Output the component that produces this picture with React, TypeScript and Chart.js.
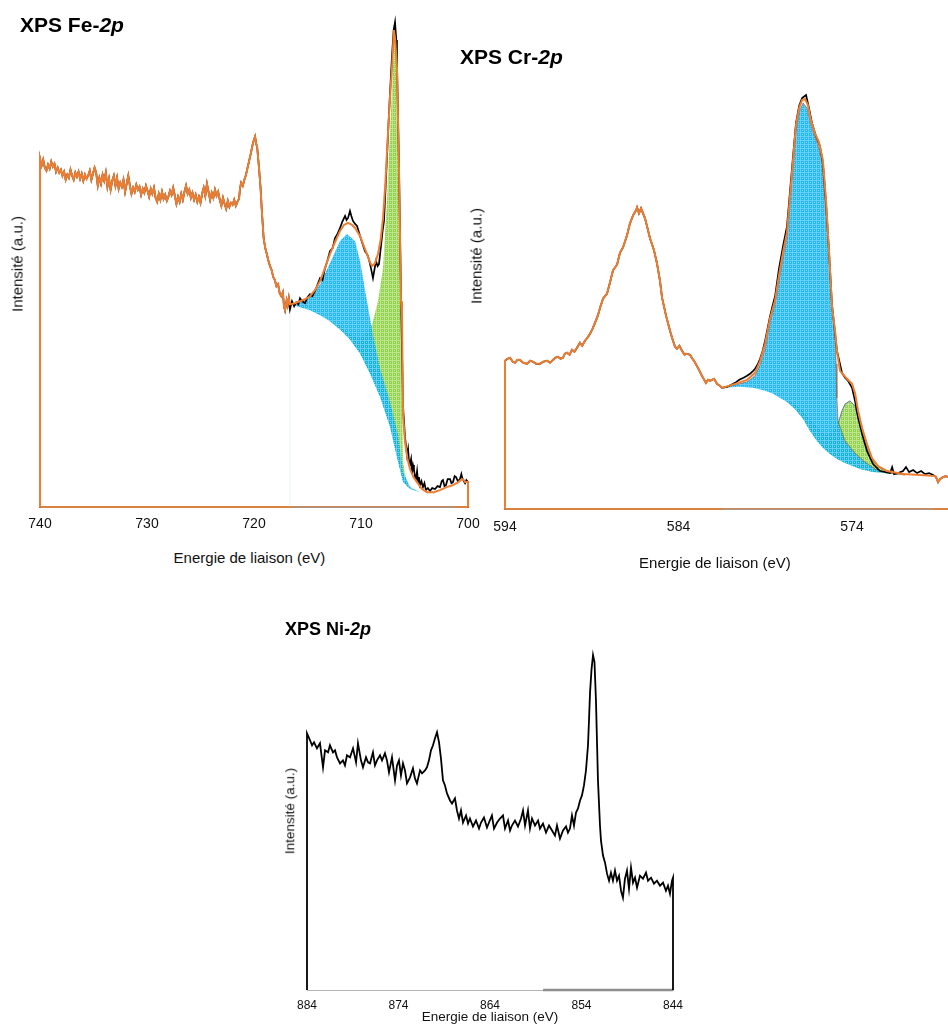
import React, { useEffect, useRef } from 'react';
import { Chart, registerables } from 'chart.js';
Chart.register(...registerables);

type P = [number, number];

const FONT = '"Liberation Sans", Arial, Helvetica, sans-serif';
const ORANGE = '#ED7D31';
const AXIS_ORANGE = '#DB8240';

// ---------- tick labels ----------
const feTicks = [740, 730, 720, 710, 700];
const crTicks = [594, 584, 574];
const niTicks = [884, 874, 864, 854, 844];

// ---------- XPS Fe-2p : [binding energy eV, intensity a.u.] ----------
const feRaw: P[] = [
  [740, 0], [740, 347], [739.85, 340], [739.7, 346], [739.55, 338], [739.4, 335], [739.25, 341], [739.1, 337],
  [738.95, 344], [738.8, 339], [738.65, 342], [738.5, 334], [738.35, 338], [738.2, 333], [738.05, 336], [737.9, 330],
  [737.75, 334], [737.6, 326], [737.45, 331], [737.3, 328], [737.15, 336], [737, 330], [736.85, 326], [736.7, 333],
  [736.55, 329], [736.4, 334], [736.25, 327], [736.1, 332], [735.95, 325], [735.8, 331], [735.65, 327], [735.5, 330],
  [735.35, 335], [735.2, 326], [735.05, 332], [734.9, 338], [734.75, 333], [734.6, 320], [734.45, 328], [734.3, 322],
  [734.15, 331], [734, 325], [733.85, 333], [733.7, 319], [733.55, 327], [733.4, 316], [733.25, 325], [733.1, 330],
  [732.95, 320], [732.8, 328], [732.65, 317], [732.5, 323], [732.35, 319], [732.2, 326], [732.05, 314], [731.9, 322],
  [731.75, 330], [731.6, 320], [731.45, 312], [731.3, 318], [731.15, 314], [731, 321], [730.85, 316], [730.7, 319],
  [730.55, 311], [730.4, 317], [730.25, 313], [730.1, 320], [729.95, 315], [729.8, 309], [729.65, 317], [729.5, 312],
  [729.35, 318], [729.2, 308], [729.05, 304], [728.9, 312], [728.75, 306], [728.6, 314], [728.45, 307], [728.3, 311],
  [728.15, 305], [728, 309], [727.85, 315], [727.7, 311], [727.55, 318], [727.4, 310], [727.25, 302], [727.1, 309],
  [726.95, 304], [726.8, 312], [726.65, 306], [726.5, 314], [726.35, 320], [726.2, 312], [726.05, 316], [725.9, 308],
  [725.75, 313], [725.6, 306], [725.45, 311], [725.3, 304], [725.15, 309], [725, 303], [724.85, 312], [724.7, 318],
  [724.55, 310], [724.4, 322], [724.25, 314], [724.1, 306], [723.95, 313], [723.8, 308], [723.65, 316], [723.5, 310],
  [723.35, 314], [723.2, 306], [723.05, 300], [722.9, 308], [722.75, 302], [722.6, 297], [722.45, 305], [722.3, 299],
  [722.15, 303], [722, 301], [721.85, 306], [721.7, 300], [721.55, 304], [721.4, 307], [721.3, 318], [721.2, 323],
  [721.05, 320], [720.9, 326], [720.75, 331], [720.6, 338], [720.45, 345], [720.3, 352], [720.15, 360], [720, 366],
  [719.9, 369], [719.8, 362], [719.7, 358], [719.55, 340], [719.4, 320], [719.25, 292], [719.1, 268], [718.95, 258],
  [718.8, 252], [718.65, 245], [718.5, 240], [718.35, 236], [718.2, 229], [718.05, 226], [717.9, 220], [717.75, 222],
  [717.6, 213], [717.45, 210], [717.3, 214], [717.2, 200], [717.1, 196], [716.95, 206], [716.85, 201], [716.75, 208],
  [716.64, 197], [716.45, 205], [716.25, 200], [716.05, 204], [715.85, 202], [715.7, 208], [715.5, 205], [715.23, 203],
  [715, 209], [714.77, 212], [714.55, 210], [714.3, 215], [714.05, 222], [713.83, 228], [713.6, 226], [713.36, 238],
  [713.15, 245], [712.9, 255], [712.65, 258], [712.43, 268], [712.2, 272], [711.96, 278], [711.75, 284], [711.49, 290],
  [711.35, 286], [711.21, 288], [711.03, 295], [710.9, 290], [710.75, 285], [710.55, 282], [710.37, 280], [710.2, 274],
  [710.09, 270], [709.85, 262], [709.63, 255], [709.45, 252], [709.35, 250], [709.2, 244], [709.07, 238], [708.88, 228],
  [708.75, 236], [708.6, 245], [708.45, 240], [708.32, 242], [708.13, 260], [707.98, 275], [707.85, 285], [707.65, 330],
  [707.48, 370], [707.3, 410], [707.1, 450], [706.95, 475], [706.82, 483], [706.7, 465], [706.64, 445], [706.45, 340],
  [706.26, 210], [706.07, 100], [705.89, 70], [705.7, 52], [705.6, 58], [705.51, 45], [705.42, 43], [705.32, 48],
  [705.23, 33], [705.14, 42], [705.05, 38], [704.95, 30], [704.86, 28], [704.76, 36], [704.67, 25], [704.58, 30],
  [704.49, 22], [704.35, 26], [704.21, 20], [704.07, 24], [703.93, 17], [703.75, 19], [703.55, 16], [703.35, 19],
  [703.08, 18], [702.85, 21], [702.62, 20], [702.45, 26], [702.34, 27], [702.2, 21], [702.06, 22], [701.9, 28],
  [701.68, 28], [701.55, 24], [701.4, 25], [701.25, 31], [701.12, 30], [700.95, 26], [700.75, 28], [700.62, 33],
  [700.56, 30], [700.45, 27], [700.28, 24], [700.15, 27], [700, 25], [700, 0],
];
const feFit: P[] = [
  [716.64, 202], [716.17, 203], [715.7, 205], [715.24, 207], [714.77, 210], [714.3, 216], [713.83, 225], [713.37, 238],
  [712.9, 252], [712.43, 264], [711.96, 275], [711.59, 281], [711.21, 283], [710.84, 281], [710.56, 278], [710.09, 270],
  [709.77, 261], [709.44, 252], [709.16, 244], [708.97, 240], [708.69, 243], [708.41, 252], [708.17, 266], [707.94, 288],
  [707.71, 325], [707.48, 372], [707.29, 408], [707.1, 438], [706.92, 475], [706.8, 465], [706.64, 438], [706.45, 338],
  [706.26, 205], [706.17, 192], [706.07, 92], [705.89, 65], [705.65, 48], [705.42, 38], [705.1, 30], [704.77, 25],
  [704.3, 18], [703.83, 15], [703.2, 15], [702.62, 17], [702, 20], [701.4, 22], [700.9, 25], [700.56, 28],
  [700.4, 27], [700.28, 25], [700, 25], [700, 0],
];
const feBg: P[] = [
  [716.64, 202], [715.7, 199], [714.77, 196], [713.83, 191], [712.9, 185], [711.96, 177], [711.03, 167], [710.09, 153],
  [709.16, 133], [708.22, 110], [707.29, 80], [706.64, 50], [706.07, 25], [705.42, 18], [704.49, 15], [703.55, 14],
];
const feBlue: P[] = [
  [716.64, 202], [715.7, 205], [714.77, 210], [713.83, 222], [712.9, 243], [711.96, 265], [711.31, 272], [710.56, 265],
  [710.09, 245], [709.44, 205], [708.88, 172], [708.22, 138], [707.29, 105], [706.54, 72], [706.07, 35],
  [705.42, 20], [704.49, 15], [703.55, 14],
];
const feGreen: P[] = [
  [712.9, 185], [711.96, 180], [711.03, 172], [710.09, 168], [709.35, 175], [708.97, 182], [708.41, 205], [707.94, 238],
  [707.57, 305], [707.29, 372], [707.01, 438], [706.82, 472], [706.64, 465], [706.54, 405], [706.36, 305], [706.26, 205],
  [706.17, 105], [706.07, 45], [705.79, 27], [705.42, 18], [704.49, 15], [703.55, 14],
];
const feBase: P[] = [[716.45, 0], [701.03, 0]];
const feEdge: P[] = [[716.64, 0], [716.64, 197]];

// ---------- XPS Cr-2p ----------
const crRaw: P[] = [
  [594, 0], [594, 148], [593.85, 150], [593.71, 151], [593.55, 147], [593.42, 146], [593.28, 149], [593.14, 149],
  [592.95, 146], [592.73, 145], [592.55, 148], [592.39, 147], [592.2, 145], [591.98, 145], [591.8, 147], [591.58, 148],
  [591.4, 146], [591.23, 149], [591.1, 151], [590.95, 152], [590.8, 150], [590.66, 151], [590.55, 155], [590.43, 156],
  [590.28, 154], [590.14, 159], [590, 157], [589.85, 161], [589.75, 164], [589.68, 166], [589.55, 163], [589.39, 168],
  [589.25, 171], [589.1, 175], [588.95, 180], [588.81, 186], [588.65, 193], [588.52, 201], [588.35, 210], [588.12, 215],
  [587.95, 226], [587.78, 238], [587.54, 244], [587.37, 256], [587.2, 261], [586.97, 273], [586.8, 285], [586.62, 293],
  [586.45, 298], [586.39, 301], [586.28, 295], [586.16, 300], [585.93, 290], [585.64, 270], [585.41, 258], [585.24, 245],
  [585.07, 228], [584.95, 211], [584.72, 193], [584.49, 178], [584.32, 168], [584.2, 162], [584.09, 160], [583.95, 163],
  [583.8, 158], [583.65, 154], [583.57, 155], [583.34, 154], [583.2, 150], [583.11, 148], [582.88, 141], [582.65, 133],
  [582.42, 126], [582.3, 129], [582.18, 128], [581.95, 130], [581.78, 125], [581.61, 123], [581.49, 121], [581.2, 122],
  [580.95, 124], [580.74, 126], [580.5, 129], [580.25, 131], [580.05, 133], [579.88, 135], [579.7, 138], [579.59, 140],
  [579.45, 144], [579.3, 150], [579.15, 158], [579.01, 168], [578.87, 180], [578.73, 192], [578.58, 203], [578.44, 212],
  [578.21, 240], [577.98, 262], [577.75, 282], [577.57, 318], [577.4, 352], [577.23, 385], [577.05, 402], [576.88, 410],
  [576.65, 413], [576.48, 400], [576.31, 385], [576.08, 372], [575.85, 362], [575.68, 345], [575.5, 305], [575.33, 258],
  [575.16, 205], [574.98, 175], [574.87, 158], [574.58, 136], [574.4, 131], [574.23, 128], [574, 121], [573.83, 108],
  [573.65, 91], [573.42, 75], [573.14, 58], [572.79, 45], [572.39, 38], [571.81, 36], [571.69, 42], [571.58, 35],
  [571.35, 36], [571.06, 38], [570.89, 42], [570.71, 37], [570.48, 39], [570.25, 36], [570.02, 38], [569.79, 35],
  [569.56, 36], [569.33, 34], [569.16, 32], [569.04, 27], [568.93, 30], [568.76, 32], [568.59, 33], [568.47, 32],
];
const crFit: P[] = [
  [581.49, 121], [580.74, 125], [580.05, 129], [579.59, 136], [579.3, 148], [579.01, 165], [578.73, 190], [578.44, 208],
  [578.21, 233], [577.98, 256], [577.75, 276], [577.57, 313], [577.4, 348], [577.23, 383], [577.05, 400], [576.88, 408],
  [576.71, 409], [576.54, 403], [576.37, 388], [576.14, 375], [575.91, 366], [575.68, 348], [575.5, 308], [575.33, 258],
  [575.15, 201], [574.98, 178], [574.87, 158], [574.69, 138], [574.29, 130], [574, 125], [573.83, 116], [573.65, 98],
  [573.42, 81], [573.14, 65], [572.85, 51], [572.5, 43], [571.98, 38], [571.06, 35], [570.08, 34], [569.22, 33],
];
const crBg: P[] = [
  [581.49, 121], [580.45, 122], [579.71, 121], [579.01, 118], [578.55, 115], [578.15, 111], [577.75, 107], [577.29, 100],
  [576.82, 90], [576.42, 78], [576.02, 68], [575.67, 61], [575.27, 55], [574.86, 50], [574.4, 46], [573.54, 40],
  [572.79, 37], [571.64, 35], [569.22, 33],
];
const crBlue: P[] = [
  [581.49, 121], [580.74, 124], [580.05, 127], [579.59, 133], [579.3, 144], [579.01, 160], [578.73, 186], [578.44, 205],
  [578.21, 228], [577.98, 251], [577.75, 271], [577.57, 308], [577.4, 343], [577.23, 378], [577.05, 396], [576.82, 405],
  [576.59, 400], [576.37, 383], [576.14, 371], [575.91, 360], [575.74, 348], [575.56, 308], [575.39, 271], [575.16, 201],
  [574.98, 178], [574.92, 145], [574.87, 111], [574.81, 88], [574.4, 68], [573.83, 56], [573.25, 47], [572.67, 40],
  [571.81, 36], [570.95, 34],
];
const crGreen: P[] = [
  [577.75, 108], [577.29, 104], [576.82, 97], [576.42, 88], [576.02, 81],
  [575.67, 75], [575.44, 73], [575.1, 76], [574.81, 85], [574.58, 98], [574.4, 105], [574.12, 108], [573.83, 103],
  [573.65, 91], [573.42, 78], [573.14, 61], [572.79, 48], [572.39, 41], [571.81, 37], [570.95, 35],
];
const crBase: P[] = [[581.5, 0], [569.3, 0]];

// ---------- XPS Ni-2p ----------
const niRaw: P[] = [
  [884, 0], [884, 256], [883.67, 249], [883.45, 244], [883.23, 247], [882.91, 241], [882.58, 246], [882.25, 222],
  [882.03, 239], [881.7, 237], [881.49, 244], [881.16, 237], [880.94, 239], [880.72, 232], [880.39, 226], [880.07, 229],
  [879.85, 224], [879.63, 234], [879.3, 232], [878.97, 241], [878.64, 227], [878.43, 246], [878.1, 229], [877.88, 222],
  [877.55, 232], [877.33, 227], [877.11, 226], [876.79, 237], [876.57, 224], [876.35, 229], [876.02, 234], [875.8, 229],
  [875.48, 236], [875.26, 229], [875.04, 217], [874.93, 222], [874.71, 232], [874.38, 209], [874.16, 224], [873.95, 229],
  [873.73, 214], [873.51, 226], [873.29, 219], [873.07, 206], [872.74, 212], [872.42, 221], [872.2, 211], [871.98, 206],
  [871.65, 219], [871.43, 216], [871.1, 219], [870.89, 222], [870.67, 229], [870.45, 239], [870.23, 244], [870.01, 251],
  [869.79, 257], [869.57, 247], [869.36, 231], [869.14, 209], [868.92, 204], [868.7, 196], [868.37, 189], [868.15, 186],
  [867.83, 191], [867.61, 179], [867.39, 171], [867.17, 179], [866.95, 167], [866.62, 174], [866.4, 166], [866.19, 171],
  [865.86, 163], [865.53, 169], [865.2, 161], [864.98, 167], [864.66, 172], [864.33, 162], [864.11, 167], [863.79, 174],
  [863.56, 161], [863.23, 167], [862.91, 171], [862.58, 174], [862.36, 161], [862.03, 169], [861.81, 159], [861.6, 164],
  [861.27, 169], [860.94, 163], [860.61, 171], [860.39, 179], [860.17, 164], [859.85, 179], [859.63, 161], [859.41, 171],
  [859.08, 164], [858.75, 169], [858.54, 161], [858.21, 166], [857.88, 157], [857.55, 164], [857.22, 159], [856.9, 154],
  [856.68, 164], [856.35, 151], [856.02, 159], [855.69, 163], [855.48, 157], [855.26, 161], [855.04, 174], [854.82, 164],
  [854.6, 177], [854.38, 181], [854.16, 189], [853.95, 194], [853.73, 204], [853.51, 219], [853.29, 244], [853.18, 269],
  [853.07, 296], [852.91, 319], [852.74, 334], [852.58, 327], [852.42, 289], [852.31, 249], [852.2, 209], [851.98, 164],
  [851.87, 149], [851.65, 134], [851.43, 127], [851.21, 116], [850.99, 109], [850.78, 117], [850.56, 109], [850.34, 119],
  [850.12, 109], [849.9, 114], [849.68, 99], [849.47, 92], [849.25, 111], [849.03, 119], [848.81, 101], [848.59, 122],
  [848.37, 107], [848.15, 112], [847.93, 102], [847.61, 114], [847.28, 111], [846.95, 117], [846.73, 109], [846.4, 112],
  [846.08, 106], [845.75, 109], [845.42, 104], [845.09, 107], [844.77, 99], [844.55, 104], [844.33, 96], [844.11, 109],
  [844, 112], [844, 0],
];
const niBase: P[] = [[858.2, 0], [844, 0]];

// ---------- helpers ----------
const toXY = (a: P[]) => a.map(([x, y]) => ({ x, y }));

function hatch(ctx: CanvasRenderingContext2D, base: string, line: string, dot: string) {
  const c = document.createElement('canvas');
  c.width = 4;
  c.height = 4;
  const g = c.getContext('2d')!;
  g.fillStyle = base;
  g.fillRect(0, 0, 4, 4);
  g.fillStyle = line;
  g.fillRect(0, 0, 4, 1);
  g.fillRect(0, 0, 1, 4);
  g.fillStyle = dot;
  g.fillRect(2, 2, 1, 1);
  return ctx.createPattern(c, 'repeat')!;
}

const line = (data: P[], color: string, width: number, order: number, extra: any = {}) => ({
  data: toXY(data),
  borderColor: color,
  borderWidth: width,
  pointRadius: 0,
  tension: 0,
  fill: false,
  clip: 4,
  order,
  ...extra,
});

const blueFill = (ctx: CanvasRenderingContext2D) =>
  hatch(ctx, 'rgba(0,172,238,0.86)', 'rgba(110,210,250,0.88)', 'rgba(160,228,252,0.85)');
const greenFill = (ctx: CanvasRenderingContext2D) =>
  hatch(ctx, 'rgb(146,208,80)', 'rgb(190,230,140)', 'rgb(205,238,165)');

interface ChartProps {
  left: number; top: number; width: number; height: number;
  pad: { left: number; right: number; top: number; bottom: number };
  xmin: number; xmax: number; ymax: number; ticks: number[];
  tickSize: number; tickPad: number; tickLH: number;
  axisColor: string; axisWidth: number;
  build: (ctx: CanvasRenderingContext2D) => any[];
}

function XpsChart(p: ChartProps) {
  const ref = useRef<HTMLCanvasElement>(null);
  useEffect(() => {
    const canvas = ref.current!;
    const ctx = canvas.getContext('2d')!;
    const chart = new Chart(ctx, {
      type: 'line',
      data: { datasets: p.build(ctx) },
      options: {
        responsive: false,
        animation: false,
        events: [],
        layout: { padding: p.pad },
        plugins: { legend: { display: false }, tooltip: { enabled: false }, title: { display: false } },
        scales: {
          x: {
            type: 'linear',
            reverse: true,
            min: p.xmin,
            max: p.xmax,
            afterBuildTicks: (ax: any) => {
              ax.ticks = p.ticks.map((v) => ({ value: v }));
            },
            grid: { display: false, drawTicks: false },
            border: { display: true, color: p.axisColor, width: p.axisWidth },
            ticks: {
              autoSkip: false,
              maxRotation: 0,
              padding: p.tickPad,
              color: '#111',
              font: { family: FONT, size: p.tickSize, lineHeight: p.tickLH },
            },
          },
          y: { display: false, min: 0, max: p.ymax },
        },
      } as any,
    });
    return () => chart.destroy();
  }, []);
  return (
    <canvas
      ref={ref}
      width={p.width}
      height={p.height}
      style={{ position: 'absolute', left: p.left, top: p.top, width: p.width, height: p.height }}
    />
  );
}

const txt = (x: number, y: number, size: number, content: React.ReactNode, rotate = false) => (
  <div
    style={{
      position: 'absolute',
      left: x,
      top: y,
      transform: `translate(-50%, -50%)${rotate ? ' rotate(-90deg)' : ''}`,
      fontFamily: FONT,
      fontSize: size,
      lineHeight: 1,
      whiteSpace: 'nowrap',
      color: '#111',
    }}
  >
    {content}
  </div>
);

const title = (x: number, y: number, size: number, el: string) => (
  <div
    style={{
      position: 'absolute',
      left: x,
      top: y,
      fontFamily: FONT,
      fontSize: size,
      lineHeight: 1,
      fontWeight: 700,
      whiteSpace: 'nowrap',
      color: '#000',
    }}
  >
    XPS {el}-<i>2p</i>
  </div>
);

export default function App() {
  const feOrange = feRaw.filter(([e]) => e > 716.65).concat(feFit);
  const crOrange = crRaw
    .filter(([e]) => e > 581.5)
    .concat(crFit)
    .concat(crRaw.filter(([e]) => e < 569.2));

  return (
    <div style={{ position: 'fixed', inset: 0, overflow: 'hidden', background: '#fff' }}>
      <XpsChart
        left={0} top={0} width={490} height={542}
        pad={{ left: 40, right: 22, top: 18, bottom: 0 }}
        xmin={700} xmax={740} ymax={487} ticks={feTicks}
        tickSize={14} tickPad={9} tickLH={1.2}
        axisColor={AXIS_ORANGE} axisWidth={2}
        build={(ctx) => [
          line(feOrange, ORANGE, 2, 0),
          line(feRaw, '#000', 1.7, 1),
          line(feBase, '#9a9a9a', 1, 2),
          line(feBlue, 'rgba(0,0,0,0)', 0, 3, { fill: { target: 5 }, backgroundColor: blueFill(ctx), clip: undefined }),
          line(feGreen, 'rgba(0,0,0,0)', 0, 4, { fill: { target: 5 }, backgroundColor: greenFill(ctx), clip: undefined }),
          line(feBg, 'rgba(0,0,0,0)', 0, 5),
          line(feEdge, 'rgba(190,224,230,0.35)', 1, 6),
        ]}
      />
      <XpsChart
        left={480} top={0} width={468} height={546}
        pad={{ left: 25, right: 0, top: 90, bottom: 0 }}
        xmin={568.47} xmax={594} ymax={418} ticks={crTicks}
        tickSize={14} tickPad={10} tickLH={1.2}
        axisColor={AXIS_ORANGE} axisWidth={2}
        build={(ctx) => [
          line(crOrange, ORANGE, 2, 0),
          line(crRaw, '#000', 1.7, 1),
          line(crBase, '#a0a0a0', 1, 2),
          line(crBlue, 'rgba(140,85,50,0.75)', 0.8, 3, { fill: { target: 5 }, backgroundColor: blueFill(ctx), clip: undefined }),
          line(crGreen, 'rgba(70,105,140,0.85)', 1, 4, { fill: { target: 5 }, backgroundColor: greenFill(ctx), clip: undefined }),
          line(crBg, 'rgba(0,0,0,0)', 0, 5),
        ]}
      />
      <XpsChart
        left={280} top={600} width={415} height={422}
        pad={{ left: 27, right: 22, top: 45, bottom: 0 }}
        xmin={844} xmax={884} ymax={344} ticks={niTicks}
        tickSize={12} tickPad={10} tickLH={1}
        axisColor={'#b4b4b4'} axisWidth={1}
        build={() => [
          line(niRaw, '#000', 1.8, 0),
          line(niBase, '#8e8e8e', 2.5, 1),
        ]}
      />

      {title(20, 14, 21, 'Fe')}
      {title(460, 45.5, 21, 'Cr')}
      {title(285, 620, 18, 'Ni')}

      {txt(17, 264, 15, 'Intensité (a.u.)', true)}
      {txt(476, 256, 15, 'Intensité (a.u.)', true)}
      {txt(290, 811, 13.5, 'Intensité (a.u.)', true)}

      {txt(249.5, 557, 15, 'Energie de liaison (eV)')}
      {txt(715, 562, 15, 'Energie de liaison (eV)')}
      {txt(490, 1017, 13.5, 'Energie de liaison (eV)')}
    </div>
  );
}
